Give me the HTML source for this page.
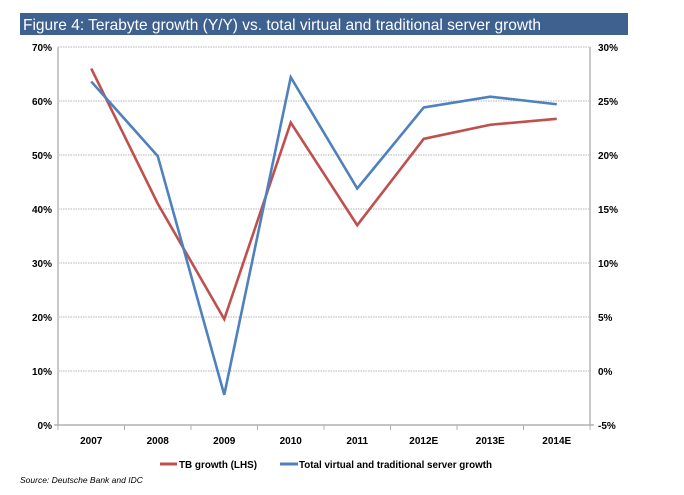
<!DOCTYPE html>
<html><head><meta charset="utf-8"><style>
html,body{margin:0;padding:0;background:#fff;}
body{width:684px;height:495px;overflow:hidden;position:relative;font-family:"Liberation Sans",Arial,sans-serif;}
</style></head><body>
<svg id="chart" width="684" height="495" xmlns="http://www.w3.org/2000/svg" style="position:absolute;left:0;top:0">
<rect x="20" y="13" width="608" height="22" fill="#3e6190"/>
<text x="23" y="30" font-size="16" textLength="518" lengthAdjust="spacingAndGlyphs" fill="#fff" font-family="Liberation Sans, Arial, sans-serif">Figure 4: Terabyte growth (Y/Y) vs. total virtual and traditional server growth</text>
<g id="grid"></g>
<g id="axes"></g>
<g id="series"></g>
<g>
<line x1="160" y1="464" x2="177" y2="464" stroke="#c0504d" stroke-width="3"/>
<text x="179" y="468" font-size="10.5" font-weight="bold" textLength="78" lengthAdjust="spacingAndGlyphs" fill="#000">TB growth (LHS)</text>
<line x1="280" y1="464" x2="298" y2="464" stroke="#4f81bd" stroke-width="3"/>
<text x="299" y="468" font-size="10.5" font-weight="bold" textLength="193" lengthAdjust="spacingAndGlyphs" fill="#000">Total virtual and traditional server growth</text>
</g>
<text x="20" y="483" font-size="8.5" font-style="italic" fill="#000">Source: Deutsche Bank and IDC</text>
</svg>
<script>
const categories=["2007","2008","2009","2010","2011","2012E","2013E","2014E"];
const tbGrowth=[66.0,41.0,19.6,56.0,37.0,53.0,55.6,56.7];
const serverGrowth=[26.8,19.9,-2.2,27.2,16.9,24.4,25.4,24.7];
const leftTicks=[0,10,20,30,40,50,60,70];
const rightTicks=[-5,0,5,10,15,20,25,30];
const NS="http://www.w3.org/2000/svg";
const L=58,R=590,T=47,B=425;
const yL=v=>B-(v-0)/(70-0)*(B-T);
const yR=v=>B-(v+5)/(35)*(B-T);
const band=(R-L)/categories.length;
const xC=i=>L+band*(i+0.5);
function mk(tag,attrs,parent){const e=document.createElementNS(NS,tag);for(const k in attrs)e.setAttribute(k,attrs[k]);parent.appendChild(e);return e;}
const grid=document.getElementById('grid'),axes=document.getElementById('axes'),series=document.getElementById('series');
leftTicks.forEach(v=>{
  if(v>0){const g=mk('line',{x1:L,x2:R,y1:yL(v),y2:yL(v),stroke:'#b4b4b4','stroke-width':1,'stroke-dasharray':'1.5,1'},grid);
  
  }
  const t=mk('text',{x:L-6,y:yL(v)+4,'font-size':10,'font-weight':'bold','text-anchor':'end',fill:'#000'},axes);
  t.textContent=v+'%';
  
  
});
rightTicks.forEach(v=>{
  const t=mk('text',{x:R+8,y:yR(v)+4,'font-size':10,'font-weight':'bold',fill:'#000'},axes);
  t.textContent=v+'%';
  
  
});
let a=mk('line',{x1:L,x2:L,y1:T,y2:B,stroke:'#c8c8c8','stroke-width':2},axes);


a=mk('line',{x1:R,x2:R,y1:T,y2:B,stroke:'#c8c8c8','stroke-width':2},axes);


a=mk('line',{x1:L-4,x2:R+4,y1:B,y2:B,stroke:'#b0b0b0','stroke-width':1.5},axes);


for(let i=0;i<=categories.length;i++){
  const tk=mk('line',{x1:L+band*i,x2:L+band*i,y1:B,y2:B+5,stroke:'#b0b0b0','stroke-width':1},axes);
  
  
}
categories.forEach((c,i)=>{
  const t=mk('text',{x:xC(i),y:444,'font-size':10,'font-weight':'bold','text-anchor':'middle',fill:'#000'},axes);
  t.textContent=c;
  
  
});
const p1=mk('polyline',{points:tbGrowth.map((v,i)=>xC(i)+','+yL(v)).join(' '),fill:'none',stroke:'#c0504d','stroke-width':2.6,'stroke-linejoin':'miter'},series);


const p2=mk('polyline',{points:serverGrowth.map((v,i)=>xC(i)+','+yR(v)).join(' '),fill:'none',stroke:'#4f81bd','stroke-width':2.6,'stroke-linejoin':'miter'},series);


</script>
</body></html>
